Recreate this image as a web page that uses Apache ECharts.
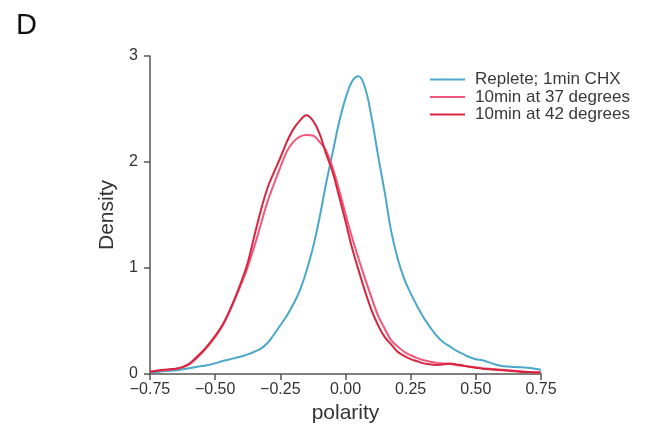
<!DOCTYPE html>
<html>
<head>
<meta charset="utf-8">
<script src="https://cdn.jsdelivr.net/npm/echarts@6/dist/echarts.min.js"></script>
<style>
html,body{margin:0;padding:0;background:#fff;}
#chart{width:648px;height:430px;}
</style>
</head>
<body>
<div id="chart"></div>
<script>
// x grid (polarity)
const xs = [];
for (let i = 0; i <= 60; i++) xs.push(Math.round((-0.75 + i * 0.025) * 1000) / 1000);

const seriesNames = ['Replete; 1min CHX', '10min at 37 degrees', '10min at 42 degrees'];

const replete = [0.02,0.02,0.025,0.03,0.035,0.045,0.055,0.065,0.075,0.085,
  0.10,0.12,0.135,0.15,0.165,0.185,0.21,0.24,0.29,0.37,
  0.46,0.55,0.66,0.79,0.97,1.19,1.47,1.79,2.08,2.37,
  2.60,2.76,2.81,2.70,2.42,2.06,1.72,1.35,1.09,0.90,
  0.76,0.64,0.53,0.44,0.36,0.30,0.26,0.22,0.19,0.16,
  0.14,0.13,0.11,0.09,0.075,0.07,0.065,0.063,0.06,0.05,0.04];

const deg37 = [0.025,0.03,0.035,0.04,0.05,0.065,0.09,0.14,0.20,0.27,
  0.35,0.44,0.56,0.70,0.85,1.01,1.20,1.41,1.62,1.79,
  1.95,2.10,2.19,2.24,2.255,2.25,2.19,2.11,1.95,1.74,
  1.51,1.29,1.09,0.90,0.72,0.55,0.43,0.32,0.26,0.21,
  0.177,0.15,0.13,0.115,0.105,0.10,0.094,0.085,0.078,0.07,
  0.062,0.055,0.05,0.045,0.04,0.035,0.03,0.025,0.02,0.018,0.015];

const deg42 = [0.02,0.03,0.04,0.045,0.05,0.065,0.095,0.15,0.21,0.28,
  0.36,0.45,0.57,0.71,0.87,1.05,1.30,1.54,1.75,1.90,
  2.04,2.19,2.31,2.39,2.44,2.39,2.27,2.08,1.91,1.68,
  1.44,1.19,0.98,0.78,0.60,0.46,0.35,0.28,0.21,0.17,
  0.14,0.12,0.10,0.09,0.085,0.09,0.10,0.09,0.08,0.068,
  0.06,0.05,0.045,0.04,0.035,0.03,0.025,0.02,0.02,0.015,0.015];

const colors = ['#4aa8cb', '#f2567a', '#d7253f'];

function pairs(ys){ return xs.map((x, i) => [x, ys[i]]); }

const chart = echarts.init(document.getElementById('chart'), null, {renderer:'canvas'});
const axisCol = '#555';
const font = 'Liberation Sans, Arial, sans-serif';
chart.setOption({
  animation: false,
  backgroundColor: '#fff',
  title: {text: 'D', left: 11, top: 6, textStyle: {fontSize: 29, fontWeight: 'normal', color: '#111', fontFamily: font}},
  grid: {left: 150, right: 107, top: 56, bottom: 56},
  legend: {
    orient: 'vertical', left: 430, top: 71, itemGap: 0.5, padding: 0,
    icon: 'rect', itemWidth: 35, itemHeight: 2,
    textStyle: {fontSize: 17, lineHeight: 17, color: '#3a3a3a', fontFamily: font, padding: [0,0,0,5]},
    data: seriesNames
  },
  xAxis: {
    type: 'value', min: -0.75, max: 0.75, interval: 0.25,
    name: 'polarity', nameLocation: 'middle', nameGap: 28,
    nameTextStyle: {fontSize: 21, color: '#333', fontFamily: font},
    axisLine: {show: true, onZero: false, lineStyle: {color: axisCol, width: 1.5}},
    axisTick: {show: true, length: 6, lineStyle: {color: axisCol, width: 1.5}},
    axisLabel: {fontSize: 16, color: '#333', fontFamily: font, margin: 8,
      formatter: v => (v < 0 ? '\u2212' : '') + Math.abs(v).toFixed(2)},
    splitLine: {show: false}
  },
  yAxis: {
    type: 'value', min: 0, max: 3, interval: 1,
    name: 'Density', nameLocation: 'middle', nameGap: 32, nameRotate: 90,
    nameTextStyle: {fontSize: 21, color: '#333', fontFamily: font},
    axisLine: {show: true, onZero: false, lineStyle: {color: axisCol, width: 1.5}},
    axisTick: {show: true, length: 6, lineStyle: {color: axisCol, width: 1.5}},
    axisLabel: {fontSize: 16, color: '#333', fontFamily: font, margin: 12},
    splitLine: {show: false}
  },
  series: [
    {name: seriesNames[0], type: 'line', data: pairs(replete), smooth: 0.4, symbol: 'none',
     lineStyle: {color: colors[0], width: 2}, itemStyle: {color: colors[0]}},
    {name: seriesNames[1], type: 'line', data: pairs(deg37), smooth: 0.4, symbol: 'none',
     lineStyle: {color: colors[1], width: 2}, itemStyle: {color: colors[1]}},
    {name: seriesNames[2], type: 'line', data: pairs(deg42), smooth: 0.4, symbol: 'none',
     lineStyle: {color: colors[2], width: 2}, itemStyle: {color: colors[2]}}
  ]
});
</script>
</body>
</html>
